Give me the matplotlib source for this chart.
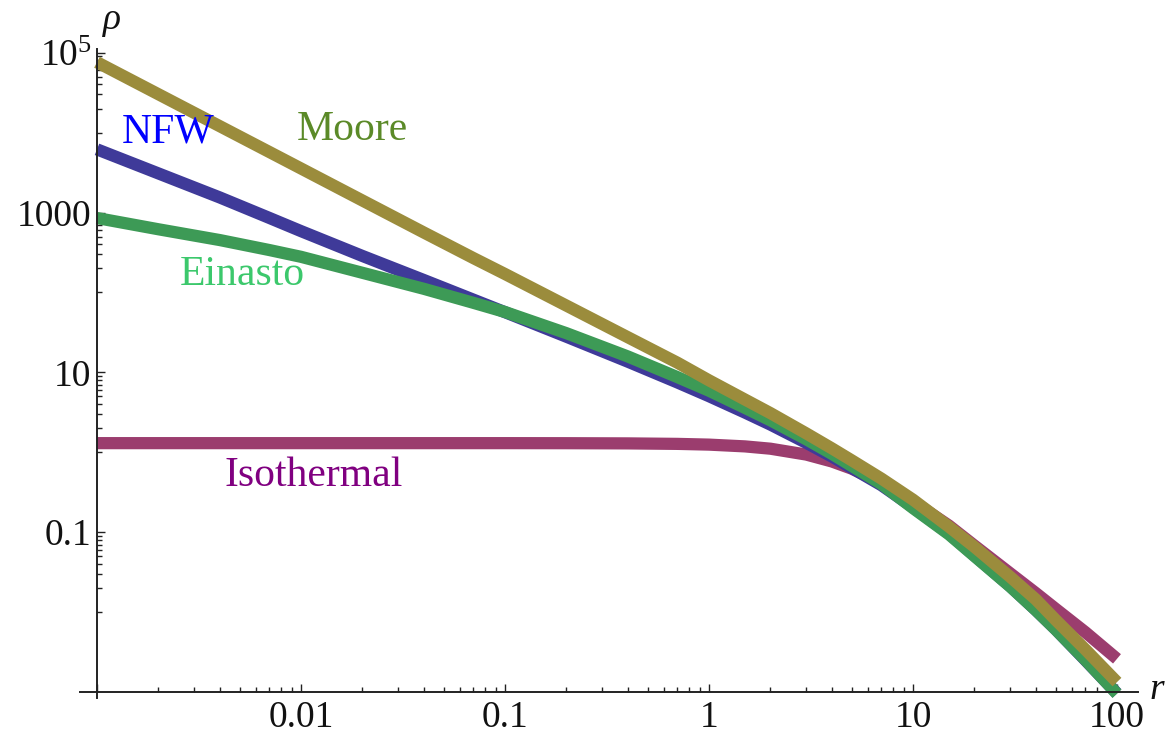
import matplotlib
matplotlib.use("Agg")
import matplotlib.pyplot as plt
from matplotlib.ticker import FixedLocator, FixedFormatter, NullFormatter

plt.rcParams['font.family'] = ['Liberation Serif', 'DejaVu Serif']
plt.rcParams['mathtext.fontset'] = 'custom'
plt.rcParams['mathtext.rm'] = 'Liberation Serif'
plt.rcParams['mathtext.it'] = 'Liberation Serif:italic'

# radius samples and density
r_vals = [0.001, 0.002, 0.004, 0.007, 0.01, 0.02, 0.04, 0.07, 0.1, 0.2, 0.4,
          0.7, 1, 1.5, 2, 3, 4, 5, 7, 10, 15, 20, 30, 40, 50, 70, 100]
iso_rho = [1.30, 1.30, 1.30, 1.30, 1.30, 1.30, 1.30, 1.30, 1.30, 1.298, 1.291,
           1.273, 1.246, 1.184, 1.108, 0.935, 0.767, 0.624, 0.416, 0.243,
           0.121, 0.068, 0.0305, 0.0173, 0.0110, 0.0056, 0.0026]
nfw_rho = [6170, 3084, 1542, 855, 585, 286, 143, 81.2, 56.6, 27.9, 13.6,
           7.47, 5.03, 3.14, 2.22, 1.31, 0.884, 0.637, 0.387, 0.205,
           0.096, 0.051, 0.0210, 0.0106, 0.0061, 0.0025, 0.00096]
einasto_rho = [853, 617, 452, 339, 279, 176, 111, 74.1, 56.9, 30.9, 15.8,
               8.71, 5.89, 3.59, 2.51, 1.45, 0.955, 0.676, 0.400, 0.200,
               0.094, 0.0502, 0.0208, 0.0106, 0.00608, 0.00253, 0.00095]
moore_rho = [75900, 30200, 12020, 5715, 3556, 1413, 562, 269, 170, 68.4, 27.5,
             13.2, 7.94, 4.57, 3.09, 1.72, 1.12, 0.794, 0.468, 0.255,
             0.117, 0.0655, 0.0275, 0.0144, 0.0080, 0.0034, 0.00133]

x_tick_vals = [0.001, 0.01, 0.1, 1, 10, 100]
x_tick_text = ["", "0.01", "0.1", "1", "10", "100"]
y_tick_vals = [0.1, 10, 1000, 1e5]
y_tick_text = ["0.1", "10", "1000", r"$10^5$"]

W, H = 1166, 736
fig = plt.figure(figsize=(W / 100, H / 100), dpi=100)
x0, x1, y0, y1 = 97, 1138, 49, 692
ax = fig.add_axes([x0 / W, 1 - y1 / H, (x1 - x0) / W, (y1 - y0) / H])
ax.set_xscale("log")
ax.set_yscale("log")
ax.set_xlim(1e-3, 10 ** 2.103)
ax.set_ylim(1e-3, 10 ** 5.046)

lw = 8.8
curves = [
    (iso_rho, "#9b3d6e"),
    (nfw_rho, "#3f3a99"),
    (einasto_rho, "#3d9a56"),
    (moore_rho, "#9b8c3c"),
]
for rho, col in curves:
    ax.plot(r_vals, rho, color=col, lw=lw, solid_capstyle="butt",
            solid_joinstyle="round", clip_on=False, zorder=3)

# Mathematica-like axes
for s in ax.spines.values():
    s.set_visible(False)
axc = "#222222"
ax.plot([-0.016, 1], [0, 0], transform=ax.transAxes, color=axc, lw=1.4,
        clip_on=False, zorder=4)
ax.plot([0, 0], [-0.01, 1], transform=ax.transAxes, color=axc, lw=1.4,
        clip_on=False, zorder=4)

ax.xaxis.set_major_locator(FixedLocator(x_tick_vals))
ax.xaxis.set_major_formatter(FixedFormatter(x_tick_text))
ax.xaxis.set_minor_locator(FixedLocator(
    [k * 10.0 ** e for e in range(-3, 2) for k in range(2, 10)]))
ax.xaxis.set_minor_formatter(NullFormatter())

ax.yaxis.set_major_locator(FixedLocator(y_tick_vals))
ax.yaxis.set_major_formatter(FixedFormatter(y_tick_text))
ax.yaxis.set_minor_locator(FixedLocator(
    [m * k / 10 for m in y_tick_vals for k in range(1, 10)]))
ax.yaxis.set_minor_formatter(NullFormatter())

ax.tick_params(which="both", direction="in", color=axc, width=1.0,
               labelsize=27, labelcolor="#111111")
ax.tick_params(which="major", length=6)
ax.tick_params(which="minor", length=3.5)
ax.tick_params(axis="x", which="major", pad=6)
ax.tick_params(axis="y", which="major", pad=4)


def label(px, py, txt, col):
    fig.text(px / W, 1 - py / H, txt, color=col, fontsize=30,
             ha="center", va="center")


label(168, 132, "NFW", "#0000ff")
label(352, 130, "Moore", "#5b8a28")
label(242, 275, "Einasto", "#3cc86c")
label(314, 476, "Isothermal", "#800080")

fig.text(112 / W, 1 - 20 / H, "ρ", fontsize=27, style="italic",
         ha="center", va="center", color="#111111")
fig.text(1157 / W, 1 - 690 / H, "r", fontsize=27, style="italic",
         ha="center", va="center", color="#111111")

fig.savefig("out.png", dpi=100)
